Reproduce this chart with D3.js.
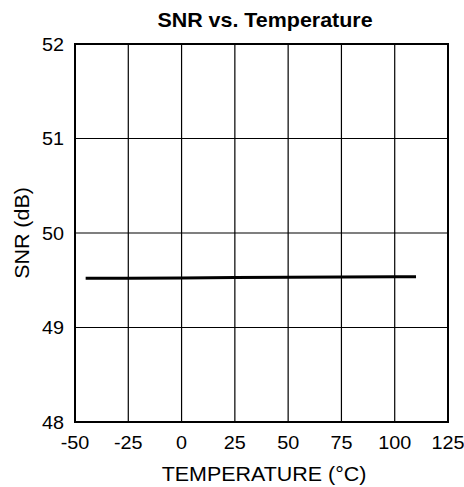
<!DOCTYPE html>
<html><head><meta charset="utf-8">
<script src="https://cdn.jsdelivr.net/npm/d3@7"></script>
<style>body{margin:0;background:#fff}text{font-family:"Liberation Sans",Arial,sans-serif;fill:#000}</style>
</head><body>
<svg id="c" width="464" height="487"></svg>
<script>
const temps = [-45, -40, -25, 0, 25, 50, 75, 100, 110];
const snr = [49.52, 49.52, 49.522, 49.525, 49.528, 49.531, 49.534, 49.537, 49.538];
const xTicks = [-50, -25, 0, 25, 50, 75, 100, 125];
const yTicks = [48, 49, 50, 51, 52];

const svg = d3.select('#c');
const L = 75, R = 448, T = 44, B = 422;
const x = d3.scaleLinear().domain([-50, 125]).range([L, R]);
const y = d3.scaleLinear().domain([48, 52]).range([B, T]);
const SX = 1.1;

const g = svg.append('g');
g.selectAll('.vg').data(xTicks).enter().append('line')
  .attr('x1', d => x(d)).attr('x2', d => x(d)).attr('y1', T).attr('y2', B)
  .attr('stroke', '#000').attr('stroke-width', 1.2);
g.selectAll('.hg').data(yTicks).enter().append('line')
  .attr('y1', d => y(d)).attr('y2', d => y(d)).attr('x1', L).attr('x2', R)
  .attr('stroke', '#000').attr('stroke-width', 1.2);
g.append('rect').attr('x', L).attr('y', T).attr('width', R - L).attr('height', B - T)
  .attr('fill', 'none').attr('stroke', '#000').attr('stroke-width', 2);

const line = d3.line().x((d, i) => x(temps[i])).y(d => y(d));
g.append('path').datum(snr).attr('d', line).attr('fill', 'none')
  .attr('stroke', '#000').attr('stroke-width', 3);

svg.selectAll('.xl').data(xTicks).enter().append('text')
  .attr('transform', d => `translate(${x(d)},449) scale(${SX},1)`).attr('text-anchor', 'middle')
  .attr('font-size', 18).text(d => d);
svg.selectAll('.yl').data(yTicks).enter().append('text')
  .attr('transform', d => `translate(64,${y(d) + 6.5}) scale(${SX},1)`).attr('text-anchor', 'end')
  .attr('font-size', 18).text(d => d);

svg.append('text').attr('transform', `translate(265,27) scale(${SX},1)`).attr('text-anchor', 'middle')
  .attr('font-size', 19.5).attr('font-weight', 'bold').text('SNR vs. Temperature');
svg.append('text').attr('transform', `translate(264,481) scale(${SX},1)`).attr('text-anchor', 'middle')
  .attr('font-size', 19.5).text('TEMPERATURE (°C)');
svg.append('text').attr('transform', `translate(29,${(T + B) / 2}) rotate(-90) scale(${SX},1)`)
  .attr('text-anchor', 'middle').attr('font-size', 19.5).text('SNR (dB)');
</script>
</body></html>
